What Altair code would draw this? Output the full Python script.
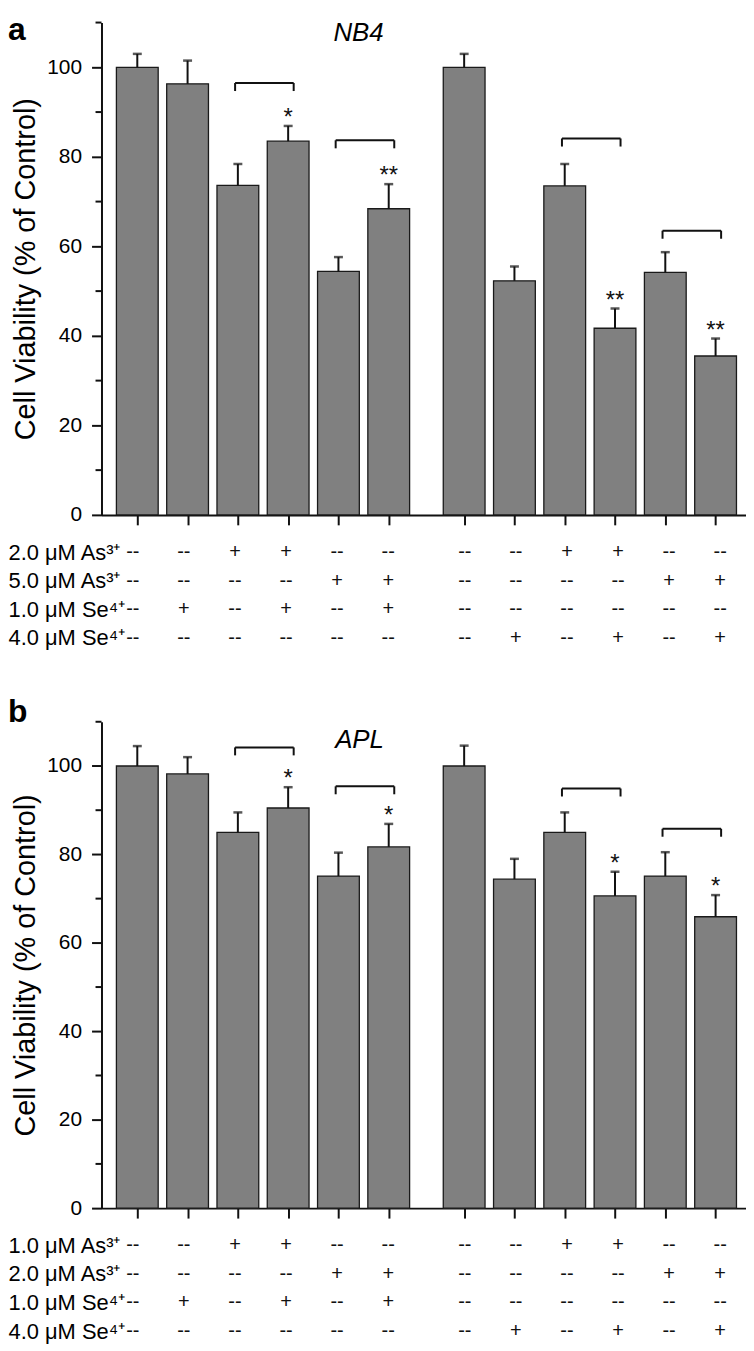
import altair as alt
import pandas as pd

# ---------------- data ----------------
positions = [0, 1, 2, 3, 4, 5, 6.5, 7.5, 8.5, 9.5, 10.5, 11.5]

nb4_viability = [100.0, 96.3, 73.6, 83.5, 54.4, 68.4, 100.0, 52.3, 73.5, 41.7, 54.2, 35.5]
nb4_sem = [3.0, 5.2, 4.8, 3.4, 3.2, 5.5, 3.0, 3.2, 4.9, 4.4, 4.5, 3.9]
nb4_stars = ["", "", "", "*", "", "**", "", "", "", "**", "", "**"]
nb4_bracket_start = [2, 4, 8.5, 10.5]
nb4_bracket_level = [96.5, 83.7, 84.1, 63.5]

apl_viability = [100.0, 98.2, 85.0, 90.5, 75.1, 81.7, 100.0, 74.4, 85.0, 70.6, 75.1, 65.9]
apl_sem = [4.5, 3.8, 4.5, 4.7, 5.3, 5.2, 4.6, 4.6, 4.5, 5.5, 5.4, 4.9]
apl_stars = ["", "", "", "*", "", "*", "", "", "", "*", "", "*"]
apl_bracket_start = [2, 4, 8.5, 10.5]
apl_bracket_level = [104.2, 95.4, 94.9, 85.8]

nb4_rows = ["2.0 μM As³⁺", "5.0 μM As³⁺", "1.0 μM Se⁴⁺", "4.0 μM Se⁴⁺"]
apl_rows = ["1.0 μM As³⁺", "2.0 μM As³⁺", "1.0 μM Se⁴⁺", "4.0 μM Se⁴⁺"]
row_low_as = ["--", "--", "+", "+", "--", "--", "--", "--", "+", "+", "--", "--"]
row_high_as = ["--", "--", "--", "--", "+", "+", "--", "--", "--", "--", "+", "+"]
row_low_se = ["--", "+", "--", "+", "--", "+", "--", "--", "--", "--", "--", "--"]
row_high_se = ["--", "--", "--", "--", "--", "--", "--", "+", "--", "+", "--", "+"]

major_ticks = [0, 20, 40, 60, 80, 100]
minor_ticks = [10, 30, 50, 70, 90, 110]

y_title = "Cell Viability (% of Control)"
nb4_title_pos, nb4_title_level = 4.4, 107.6
apl_title_pos, apl_title_level = 4.42, 105.8

X_DOMAIN = [-0.613, 12.006]
Y_DOMAIN = [0, 110]
PLOT_W = 648
INK = "#111111"


def make_panel(letter, letter_y, cell_line, t_pos, t_level, vals, sems, stars,
               b_start, b_level, rows, plot_h):
    xs = alt.Scale(domain=X_DOMAIN, nice=False, zero=False)
    ys = alt.Scale(domain=Y_DOMAIN, nice=False, zero=True)

    df = pd.DataFrame({"pos": positions, "val": vals, "sem": sems, "star": stars})
    df["top"] = df["val"] + df["sem"]

    bars = alt.Chart(df).mark_bar(size=42, fill="#808080", stroke="#1a1a1a", strokeWidth=1.3).encode(
        x=alt.X("pos:Q", scale=xs,
                axis=alt.Axis(values=positions, labels=False, ticks=True, tickSize=10, tickWidth=2,
                              tickColor=INK, domainColor=INK, domainWidth=2, grid=False, title=None)),
        y=alt.Y("val:Q", scale=ys,
                axis=alt.Axis(values=major_ticks, tickSize=10, tickWidth=2, tickColor=INK,
                              domainColor=INK, domainWidth=2, grid=False,
                              labelFontSize=21, labelColor="black", labelPadding=10,
                              title=y_title, titleFontSize=29, titleFontWeight="normal",
                              titleColor="black", titlePadding=6)),
    )
    err = alt.Chart(df).mark_rule(strokeWidth=2, color=INK).encode(
        x=alt.X("pos:Q", scale=xs), y=alt.Y("val:Q", scale=ys), y2="top:Q")
    caps = alt.Chart(df).mark_tick(orient="horizontal", size=9, thickness=2.5, color=INK).encode(
        x=alt.X("pos:Q", scale=xs), y=alt.Y("top:Q", scale=ys))
    star_txt = alt.Chart(df).mark_text(fontSize=24, baseline="alphabetic", dy=-1, color=INK).encode(
        x=alt.X("pos:Q", scale=xs), y=alt.Y("top:Q", scale=ys), text="star:N")

    bdf = pd.DataFrame({"start": b_start, "level": b_level})
    bdf["left"] = bdf["start"] - 0.055
    bdf["right"] = bdf["start"] + 1.11
    bdf["low"] = bdf["level"] - 1.8
    b_h = alt.Chart(bdf).mark_rule(strokeWidth=2, color=INK).encode(
        x=alt.X("left:Q", scale=xs), x2="right:Q", y=alt.Y("level:Q", scale=ys))
    b_l = alt.Chart(bdf).mark_rule(strokeWidth=2, color=INK).encode(
        x=alt.X("left:Q", scale=xs), y=alt.Y("level:Q", scale=ys), y2="low:Q")
    b_r = alt.Chart(bdf).mark_rule(strokeWidth=2, color=INK).encode(
        x=alt.X("right:Q", scale=xs), y=alt.Y("level:Q", scale=ys), y2="low:Q")

    mdf = pd.DataFrame({"tick": minor_ticks})
    minor = alt.Chart(mdf).mark_rule(strokeWidth=2, color=INK).encode(
        x=alt.value(-6), x2=alt.value(0), y=alt.Y("tick:Q", scale=ys))

    tdf = pd.DataFrame({"label": [cell_line], "x": [t_pos], "y": [t_level]})
    title = alt.Chart(tdf).mark_text(fontSize=26, fontStyle="italic", color="black").encode(
        x=alt.X("x:Q", scale=xs), y=alt.Y("y:Q", scale=ys), text="label:N")

    ldf = pd.DataFrame({"label": [letter]})
    letter_txt = alt.Chart(ldf).mark_text(fontSize=32, fontWeight="bold", align="left",
                                          baseline="alphabetic", color="black").encode(
        x=alt.value(-94), y=alt.value(letter_y), text="label:N")

    plot = alt.layer(bars, err, caps, star_txt, b_h, b_l, b_r, minor, title, letter_txt).properties(
        width=PLOT_W, height=plot_h)

    syms = []
    for r, marks in zip(rows, [row_low_as, row_high_as, row_low_se, row_high_se]):
        for p, m in zip(positions, marks):
            syms.append({"row": r, "pos": p, "sym": m})
    sdf = pd.DataFrame(syms)
    table = alt.Chart(sdf).mark_text(fontSize=20, color=INK, baseline="middle").encode(
        x=alt.X("pos:Q", scale=alt.Scale(domain=X_DOMAIN, nice=False, zero=False), axis=None),
        y=alt.Y("row:N", sort=rows, scale=alt.Scale(domain=rows, type="point", padding=0.5),
                axis=alt.Axis(title=None, domain=False, ticks=False, tickSize=0, labelAlign="left",
                              labelBaseline="middle", labelPadding=94, labelFontSize=22,
                              labelColor="black", labelLimit=0)),
        text="sym:N",
    ).properties(width=PLOT_W, height=115)

    return alt.vconcat(plot, table, spacing=12)


panel_a = make_panel("a", 18, "NB4", nb4_title_pos, nb4_title_level, nb4_viability, nb4_sem,
                     nb4_stars, nb4_bracket_start, nb4_bracket_level, nb4_rows, 495)
panel_b = make_panel("b", 0, "APL", apl_title_pos, apl_title_level, apl_viability, apl_sem,
                     apl_stars, apl_bracket_start, apl_bracket_level, apl_rows, 489)

chart = alt.vconcat(panel_a, panel_b, spacing=44).properties(
    padding={"left": 0, "top": 3, "right": 0, "bottom": 0}
).configure(font="Liberation Sans").configure_view(stroke=None)

chart.save("out.html", embed_options={"renderer": "svg", "actions": False})
